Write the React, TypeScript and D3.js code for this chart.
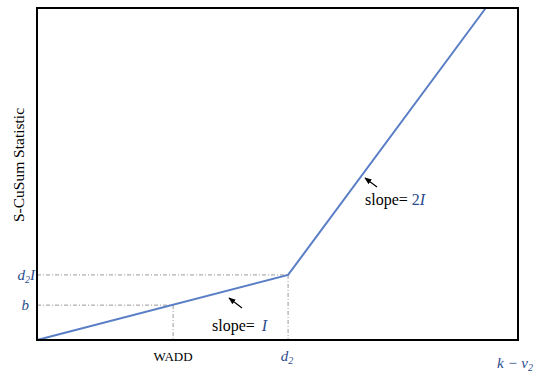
import React from "react";
import * as d3 from "d3";

const curveX = [0, 52.2, 93.3];
const curveY = [0, 19.6, 100];
const waddX = 28.3;
const bY = 10.5;
const d2X = 52.2;
const d2IY = 19.6;
const xTickLabels = ["WADD", "d2"];
const yTickLabels = ["b", "d2I"];

const W = 545, H = 373;
const left = 37, right = 518, top = 8, bottom = 340;
const blue = "#2B4C8C";
const lineBlue = "#5A7EC6";
const serif = "'Liberation Serif', 'DejaVu Serif', serif";

export default function App() {
  const x = d3.scaleLinear().domain([0, 100]).range([left, right]);
  const y = d3.scaleLinear().domain([0, 100]).range([bottom, top]);
  const pts: [number, number][] = curveX.map((v, i) => [v, curveY[i]]);
  const line = d3.line<[number, number]>().x(d => x(d[0])).y(d => y(d[1]));
  const dash = "4,2,1,2";
  return (
    <svg width={W} height={H} style={{ position: "absolute", left: 0, top: 0 }}>
      <defs>
        <marker id="ah" viewBox="0 0 10 10" refX="9" refY="5" markerWidth="6" markerHeight="6" orient="auto">
          <path d="M0,1 L10,5 L0,9 z" fill="#000" />
        </marker>
      </defs>
      <rect x={0} y={0} width={W} height={H} fill="#fff" />
      <line x1={x(0)} x2={x(d2X)} y1={y(d2IY)} y2={y(d2IY)} stroke="#999" strokeDasharray={dash} strokeWidth={1} />
      <line x1={x(d2X)} x2={x(d2X)} y1={y(d2IY)} y2={y(0)} stroke="#999" strokeDasharray={dash} strokeWidth={1} />
      <line x1={x(0)} x2={x(waddX)} y1={y(bY)} y2={y(bY)} stroke="#999" strokeDasharray={dash} strokeWidth={1} />
      <line x1={x(waddX)} x2={x(waddX)} y1={y(bY)} y2={y(0)} stroke="#999" strokeDasharray={dash} strokeWidth={1} />
      <path d={line(pts) || ""} fill="none" stroke={lineBlue} strokeWidth={2} />
      <rect x={left} y={top} width={right - left} height={bottom - top} fill="none" stroke="#000" strokeWidth={2} />
      <text transform={`translate(24,165) rotate(-90)`} textAnchor="middle" fontFamily={serif} fontSize={15.5} fill="#000">S-CuSum Statistic</text>
      <text x={29} y={y(bY) + 5} textAnchor="end" fontFamily={serif} fontStyle="italic" fontSize={15} fill={blue}>{yTickLabels[0]}</text>
      <text x={35} y={y(d2IY) + 5} textAnchor="end" fontFamily={serif} fontStyle="italic" fontSize={15} fill={blue}>
        d<tspan fontSize={10} dy={3}>2</tspan><tspan dy={-3}>I</tspan>
      </text>
      <text x={x(waddX)} y={361} textAnchor="middle" fontFamily={serif} fontSize={13} fill="#000">{xTickLabels[0]}</text>
      <text x={x(d2X) - 1} y={361} textAnchor="middle" fontFamily={serif} fontStyle="italic" fontSize={15} fill={blue}>
        d<tspan fontSize={10} dy={3}>2</tspan>
      </text>
      <text x={497} y={368} fontFamily={serif} fontStyle="italic" fontSize={15} fill={blue}>
        k − ν<tspan fontSize={10} dy={3}>2</tspan>
      </text>
      <line x1={242} y1={308} x2={229} y2={298} stroke="#000" strokeWidth={1.2} markerEnd="url(#ah)" />
      <text x={212} y={331} fontFamily={serif} fontSize={16} fill="#000">slope=  <tspan dx={3} fill={blue} fontStyle="italic">I</tspan></text>
      <line x1={377} y1={187} x2={365} y2={178} stroke="#000" strokeWidth={1.2} markerEnd="url(#ah)" />
      <text x={365} y={205} fontFamily={serif} fontSize={16} fill="#000">slope= <tspan fill={blue}>2</tspan><tspan fill={blue} fontStyle="italic">I</tspan></text>
    </svg>
  );
}
